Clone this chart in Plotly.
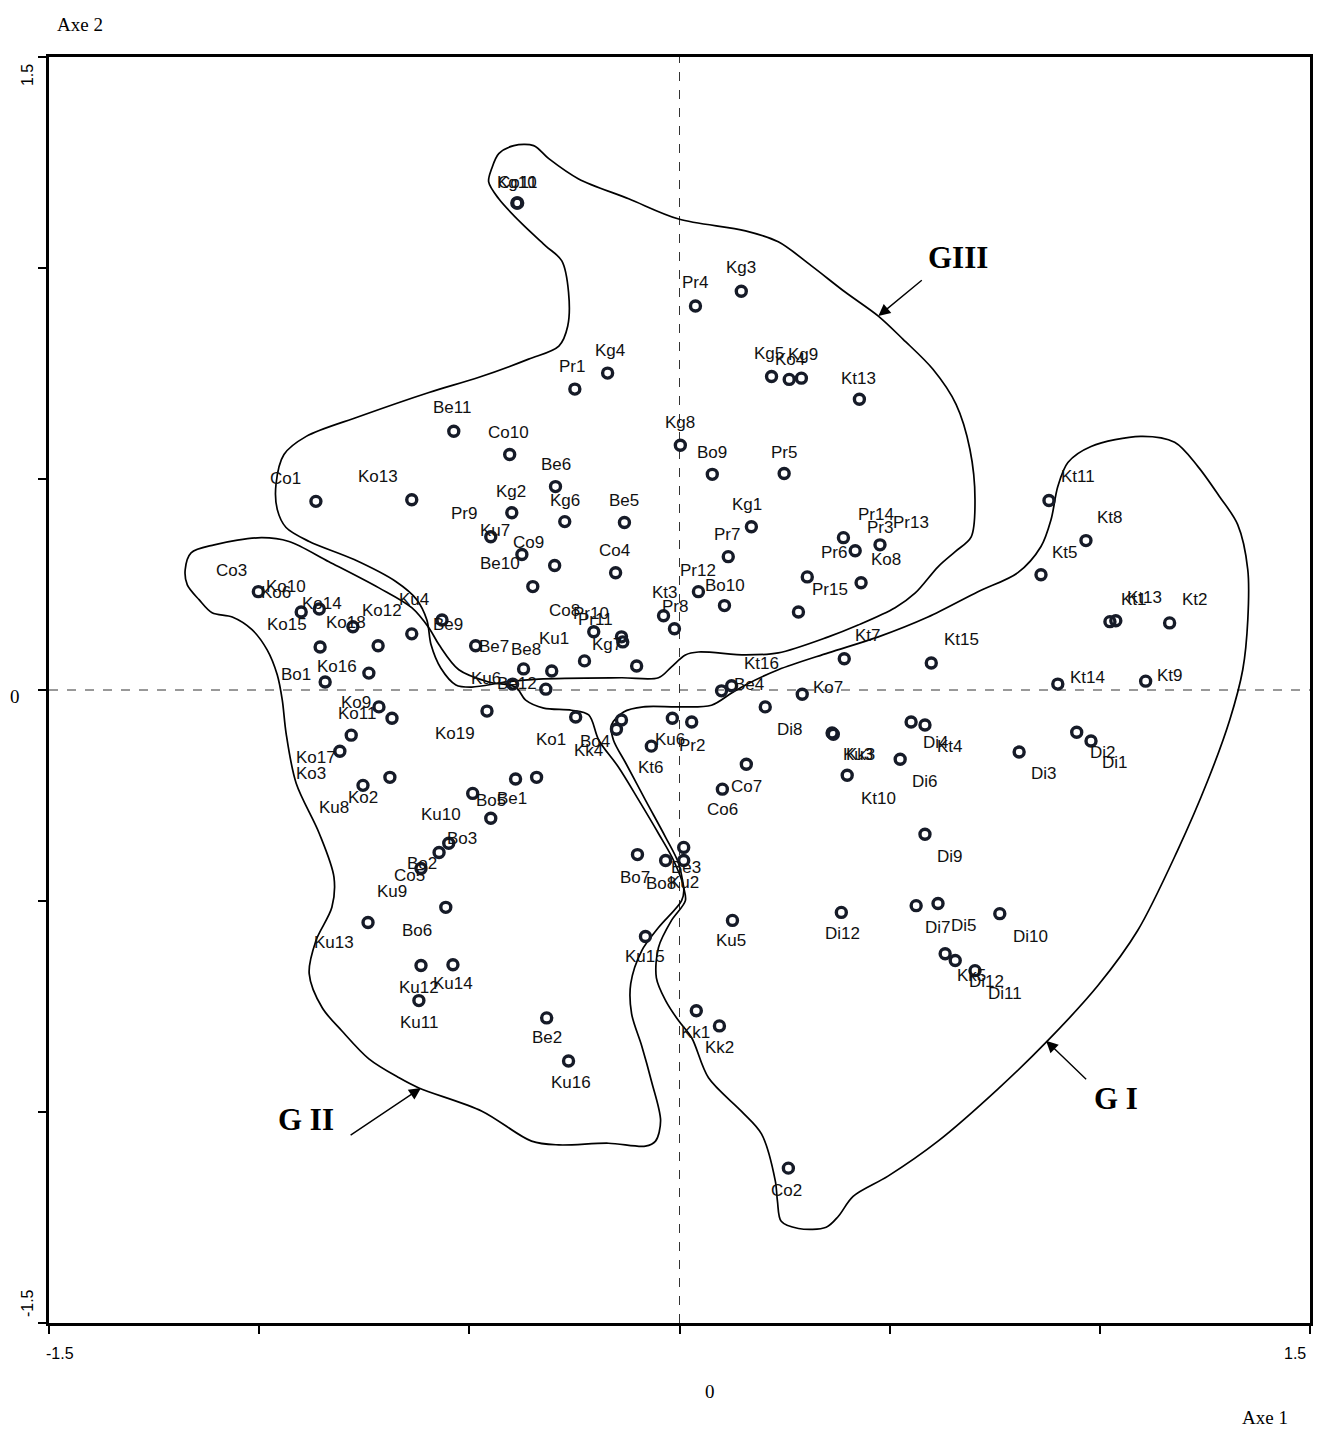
import plotly.graph_objects as go

# ---------------- data ----------------
names = ["Kg10","Co11","Pr4","Kg3","Kg4","Pr1","Kg5","Ko4","Kg9","Kt13",
         "Be11","Kg8","Co10","Bo9","Pr5","Be6","Co1","Ko13","Kg2","Kg6",
         "Be5","Kg1","Pr9","Ku7","Co9","Be10","Co4","Pr7","Pr14","Pr3",
         "Pr13","Pr6","Ko8","Pr15","Pr12","Bo10","Kt3","Pr8","Co8","Pr10",
         "Pr11","Kg7","Ku1","Be8","Be7","Be9","Ku4","Ko12","Ko18","Ko14",
         "Ko10","Ko6","Co3","Ko15","Ko16","Bo1","Kt11","Kt8","Kt5","Kt1",
         "Kt13b","Kt2","Kt15","Kt14","Kt9","Kt7","Kt16","Be4","Ko7","Ko19",
         "Ko1","Bo4","Kk4","Ku6","Pr2","Kt6","Co7","Co6","Di8","Kk3",
         "Ku3","Kt10","Di4","Kt4","Di6","Di3","Di2","Di1","Di9","Di12",
         "Di7","Di5","Di10","Kk5","Di12b","Di11","Ko9","Ko11","Ko17","Ko3",
         "Ku8","Ko2","Ku10","Bo5","Be1","Bo3","Bo2","Co5","Ku9","Bo6",
         "Ku13","Ku12","Ku14","Ku11","Be2","Ku16","Ku15","Ku5","Kk1","Kk2",
         "Co2","Bo7","Bo8","Ku2","Be3","Ku6b","Be12"]

axe1 = [-0.387,-0.385,0.038,0.147,-0.171,-0.249,0.219,0.261,0.290,0.428,
        -0.537,0.002,-0.404,0.078,0.249,-0.295,-0.865,-0.637,-0.399,-0.273,
        -0.131,0.171,-0.449,-0.375,-0.297,-0.349,-0.152,0.116,0.390,0.418,
        0.477,0.304,0.432,0.283,0.045,0.107,-0.038,-0.012,-0.204,-0.138,
        -0.135,-0.102,-0.226,-0.304,-0.371,-0.485,-0.565,-0.637,-0.717,-0.777,
        -0.857,-0.900,-1.002,-0.855,-0.739,-0.843,0.879,0.967,0.860,1.024,
        1.038,1.166,0.599,0.900,1.109,0.392,0.124,0.100,0.292,-0.458,
        -0.247,-0.138,-0.150,-0.017,0.029,-0.067,0.159,0.102,0.204,0.363,
        0.366,0.399,0.551,0.584,0.525,0.808,0.945,0.979,0.584,0.385,
        0.563,0.615,0.762,0.632,0.656,0.703,-0.715,-0.684,-0.781,-0.808,
        -0.753,-0.689,-0.492,-0.390,-0.340,-0.449,-0.549,-0.572,-0.615,-0.556,
        -0.741,-0.615,-0.539,-0.620,-0.316,-0.264,-0.081,0.126,0.040,0.095,
        0.259,-0.100,-0.033,0.010,0.010,-0.397,-0.318]

axe2 = [1.154,1.154,0.910,0.945,0.751,0.713,0.743,0.736,0.739,0.689,
        0.613,0.580,0.558,0.511,0.513,0.482,0.447,0.451,0.420,0.399,
        0.397,0.387,0.363,0.321,0.295,0.245,0.278,0.316,0.361,0.330,
        0.344,0.268,0.254,0.185,0.233,0.200,0.176,0.145,0.138,0.126,
        0.114,0.057,0.069,0.045,0.050,0.105,0.166,0.133,0.105,0.150,
        0.192,0.185,0.233,0.102,0.040,0.019,0.449,0.354,0.273,0.162,
        0.164,0.159,0.064,0.014,0.021,0.074,0.010,-0.002,-0.010,-0.050,
        -0.064,-0.071,-0.093,-0.067,-0.076,-0.133,-0.176,-0.235,-0.040,-0.102,
        -0.105,-0.202,-0.076,-0.083,-0.164,-0.147,-0.100,-0.121,-0.342,-0.527,
        -0.511,-0.506,-0.530,-0.625,-0.641,-0.665,-0.040,-0.067,-0.107,-0.145,
        -0.226,-0.207,-0.245,-0.211,-0.207,-0.304,-0.363,-0.385,-0.423,-0.515,
        -0.551,-0.653,-0.651,-0.736,-0.777,-0.879,-0.584,-0.546,-0.760,-0.796,
        -1.133,-0.390,-0.404,-0.404,-0.373,0.014,0.002]

# label text shown next to each point (the chart repeats a few names)
label_text = [n[:-1] if n.endswith("b") and n[-2].isdigit() else n for n in names]

# label offsets (screen px, x right / y down) - style
lab_dx = [0,0,0,0,2,-3,-3,1,2,-1,
          -2,0,-1,0,0,0,-30,-34,-1,0,
          0,-4,-27,-27,-26,-33,-1,-1,33,25,
          31,27,25,32,0,1,1,1,-29,-30,
          -27,-30,-31,-26,-30,-28,-28,-30,-32,-31,
          -33,-25,-27,-33,-32,-29,29,24,24,24,
          29,25,30,30,24,24,30,27,26,-32,
          -25,-26,-28,-2,0,0,0,0,25,28,
          25,31,25,25,25,25,26,24,25,1,
          22,26,31,26,31,30,-23,-35,-35,-29,
          -29,-27,-32,-25,-25,-29,-27,-30,-29,-29,
          -34,-2,0,0,0,2,0,-1,-1,0,
          -2,-2,-5,0,2,-27,-29]
lab_dy = [-21,-21,-23,-24,-23,-23,-23,-20,-24,-21,
          -24,-23,-22,-22,-21,-22,-23,-23,-21,-21,
          -22,-22,-23,-24,-23,-23,-22,-22,-23,-23,
          -22,-24,-23,-22,-21,-20,-23,-22,-21,-23,
          -22,-21,-22,-22,-22,-21,-20,-23,-23,-23,
          -22,-19,-21,-22,-7,-7,-24,-23,-22,-22,
          -23,-23,-23,-7,-6,-23,-22,-6,-7,22,
          22,22,21,21,23,21,22,20,23,21,
          20,23,20,21,22,21,20,21,22,21,
          22,22,23,22,21,23,-4,-5,22,22,
          22,20,21,21,21,20,20,23,23,23,
          20,22,19,22,20,22,20,20,22,22,
          22,23,23,22,20,-6,-6]

# hand-drawn group outlines (axis units)
g1_x = [-0.162,-0.133,-0.086,-0.002,0.076,0.124,0.157,0.235,0.354,0.473,0.591,0.710,0.805,0.860,
        0.884,0.900,0.924,0.979,1.097,1.178,1.233,1.285,1.328,1.352,1.352,1.340,1.309,1.257,
        1.185,1.090,0.995,0.876,0.758,0.615,0.496,0.413,0.378,0.349,0.283,0.242,0.233,0.228,
        0.195,0.147,0.069,0.029,-0.002,-0.033,-0.055,-0.050,-0.019,0.014,0.010,-0.002,-0.033,
        -0.081,-0.128,-0.157,-0.162]
g1_y = [-0.083,-0.052,-0.040,-0.040,-0.036,-0.007,0.012,0.048,0.088,0.126,0.173,0.233,0.278,0.340,
        0.404,0.482,0.539,0.577,0.601,0.587,0.530,0.458,0.392,0.285,0.166,0.048,-0.071,-0.214,
        -0.380,-0.570,-0.701,-0.831,-0.945,-1.069,-1.152,-1.200,-1.247,-1.273,-1.276,-1.259,-1.211,-1.164,
        -1.052,-0.998,-0.919,-0.824,-0.784,-0.736,-0.682,-0.610,-0.546,-0.499,-0.468,-0.411,-0.349,
        -0.261,-0.173,-0.119,-0.083]

g2_x = [-1.176,-1.162,-1.107,-0.995,-0.929,-0.834,-0.715,-0.637,-0.596,-0.572,-0.525,-0.454,-0.390,
        -0.366,-0.323,-0.257,-0.216,-0.192,-0.145,-0.097,-0.050,-0.014,0.010,0.005,-0.050,-0.090,
        -0.116,-0.114,-0.090,-0.067,-0.045,-0.057,-0.081,-0.169,-0.287,-0.352,-0.470,-0.620,-0.667,
        -0.739,-0.803,-0.850,-0.881,-0.865,-0.827,-0.822,-0.857,-0.912,-0.936,-0.945,-0.957,-0.981,
        -1.017,-1.064,-1.112,-1.143,-1.171,-1.176]
g2_y = [0.285,0.325,0.344,0.361,0.352,0.304,0.242,0.195,0.147,0.107,0.048,0.019,0.007,
        -0.024,-0.043,-0.048,-0.059,-0.119,-0.183,-0.261,-0.340,-0.404,-0.470,-0.499,-0.563,-0.618,
        -0.696,-0.767,-0.843,-0.926,-1.021,-1.069,-1.081,-1.074,-1.078,-1.069,-0.998,-0.943,-0.919,
        -0.874,-0.808,-0.753,-0.672,-0.594,-0.515,-0.444,-0.340,-0.221,-0.102,-0.024,0.036,0.095,
        0.143,0.173,0.183,0.214,0.249,0.285]

g3_x = [-0.447,-0.430,-0.394,-0.347,-0.311,-0.240,-0.121,-0.002,0.157,0.235,0.314,0.394,0.473,
        0.532,0.603,0.658,0.691,0.703,0.694,0.656,0.615,0.561,0.513,0.425,0.354,0.235,0.157,
        0.045,0.014,-0.019,-0.050,-0.138,-0.335,-0.413,-0.494,-0.532,-0.568,-0.591,-0.601,-0.625,
        -0.675,-0.774,-0.881,-0.936,-0.957,-0.960,-0.941,-0.888,-0.762,-0.596,-0.477,-0.359,-0.287,
        -0.266,-0.264,-0.280,-0.318,-0.375,-0.430,-0.454,-0.447]
g3_y = [1.235,1.271,1.290,1.290,1.259,1.211,1.164,1.116,1.088,1.062,1.005,0.943,0.886,
        0.831,0.760,0.677,0.570,0.451,0.363,0.328,0.292,0.230,0.195,0.154,0.126,0.088,0.083,
        0.090,0.083,0.055,0.029,0.029,0.026,0.019,0.007,0.012,0.052,0.107,0.166,0.214,
        0.257,0.309,0.352,0.385,0.428,0.487,0.558,0.601,0.648,0.705,0.741,0.784,0.815,
        0.862,0.943,1.017,1.052,1.105,1.164,1.204,1.235]

ink = "#161b28"

fig = go.Figure()

for gx, gy in [(g1_x, g1_y), (g2_x, g2_y), (g3_x, g3_y)]:
    fig.add_trace(go.Scatter(x=gx, y=gy, mode="lines",
                             line=dict(color="black", width=1.7, shape="spline", smoothing=0.9),
                             hoverinfo="skip", showlegend=False))

fig.add_trace(go.Scatter(
    x=axe1, y=axe2, mode="markers", text=names, showlegend=False,
    marker=dict(symbol="circle-open", size=10, color=ink, line=dict(width=3.4, color=ink)),
))

annotations = []
for t, xv, yv, dx, dy in zip(label_text, axe1, axe2, lab_dx, lab_dy):
    annotations.append(dict(x=xv, y=yv, xref="x", yref="y", text=t, showarrow=False,
                            xshift=dx, yshift=-dy, xanchor="center", yanchor="middle",
                            font=dict(family="Liberation Sans, Arial", size=17, color="#111111")))

# group names with arrows
grp_font = dict(family="Liberation Serif, Times New Roman", size=31, color="black")
arrow_style = dict(showarrow=True, arrowhead=2, arrowsize=1.7, arrowwidth=1.4, arrowcolor="black",
                   text="", xref="x", yref="y", axref="x", ayref="y")
annotations += [
    dict(x=0.473, y=0.886, ax=0.580, ay=0.974, **arrow_style),
    dict(x=0.663, y=1.026, xref="x", yref="y", text="<b>GIII</b>", showarrow=False, font=grp_font,
         xanchor="center", yanchor="middle"),
    dict(x=-0.615, y=-0.943, ax=-0.786, ay=-1.057, **arrow_style),
    dict(x=-0.888, y=-1.017, xref="x", yref="y", text="<b>G II</b>", showarrow=False, font=grp_font,
         xanchor="center", yanchor="middle"),
    dict(x=0.872, y=-0.831, ax=0.971, ay=-0.926, **arrow_style),
    dict(x=1.038, y=-0.969, xref="x", yref="y", text="<b>G I</b>", showarrow=False, font=grp_font,
         xanchor="center", yanchor="middle"),
]

sans = dict(family="Liberation Sans, Arial", size=16, color="black")
serif = dict(family="Liberation Serif, Times New Roman", size=19, color="black")
edge = [
    ("-1.5", 0.0087, -0.0237, sans, 0),
    ("1.5", 0.988, -0.0237, sans, 0),
    ("0", 0.5245, -0.0545, serif, 0),
    ("1.5", -0.0166, 0.9858, sans, -90),
    ("0", -0.0269, 0.4945, serif, 0),
    ("-1.5", -0.0166, 0.0158, sans, -90),
    ("Axe 2", 0.0245, 1.0253, serif, 0),
    ("Axe 1", 0.9644, -0.075, serif, 0),
]
for t, px, py, f, ang in edge:
    annotations.append(dict(x=px, y=py, xref="paper", yref="paper", text=t, showarrow=False,
                            font=f, textangle=ang, xanchor="center", yanchor="middle"))

shapes = [
    dict(type="line", xref="x", yref="y", x0=0, x1=0, y0=-1.5, y1=1.5,
         line=dict(color="#333333", width=1, dash="dash"), layer="below"),
    dict(type="line", xref="x", yref="y", x0=-1.5, x1=1.5, y0=0, y1=0,
         line=dict(color="#333333", width=1, dash="dash"), layer="below"),
]

axis_common = dict(range=[-1.5, 1.5], dtick=0.5, tick0=-1.5, showgrid=False, zeroline=False,
                   showticklabels=False, ticks="outside", ticklen=8, tickwidth=2, tickcolor="black",
                   showline=True, linewidth=3, linecolor="black", mirror=True, fixedrange=True)

fig.update_layout(
    width=1317, height=1430,
    margin=dict(l=49, r=4, t=57, b=107),
    plot_bgcolor="white", paper_bgcolor="white",
    xaxis=axis_common, yaxis=axis_common,
    annotations=annotations, shapes=shapes,
    showlegend=False,
)

fig.write_html("out.html")
